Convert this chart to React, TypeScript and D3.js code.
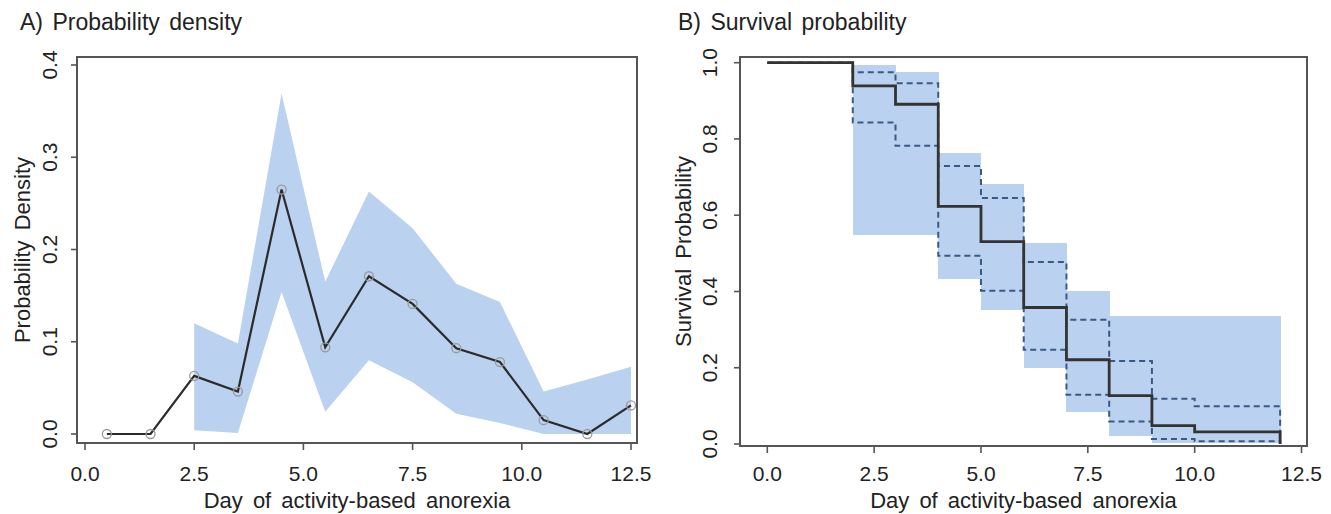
import React from 'react';
import * as d3 from 'd3';

// A) probability density by day
const days = [0.5, 1.5, 2.5, 3.5, 4.5, 5.5, 6.5, 7.5, 8.5, 9.5, 10.5, 11.5, 12.5];
const density = [0, 0, 0.063, 0.046, 0.265, 0.094, 0.171, 0.141, 0.093, 0.078, 0.015, 0.0, 0.031];
const densityUpper = [null, null, 0.12, 0.098, 0.369, 0.165, 0.263, 0.223, 0.163, 0.143, 0.046, 0.059, 0.073];
const densityLower = [null, null, 0.004, 0.001, 0.154, 0.024, 0.08, 0.056, 0.022, 0.012, 0.0, 0.0, 0.0];

// B) Kaplan-Meier survival
const kmTimes = [0, 2, 3, 4, 5, 6, 7, 8, 9, 10, 12];
const kmSurv = [1.0, 0.939, 0.891, 0.623, 0.531, 0.358, 0.221, 0.127, 0.048, 0.032, 0.0];
const kmUpper = [1.0, 0.975, 0.946, 0.729, 0.645, 0.477, 0.326, 0.218, 0.119, 0.099, 0.0];
const kmLower = [1.0, 0.843, 0.782, 0.494, 0.402, 0.247, 0.129, 0.059, 0.013, 0.007, 0.0];
const shadeStart = [2, 3, 4, 5, 6, 7, 8, 9, 10];
const shadeEnd = [3, 4, 5, 6, 7, 8, 9, 10, 12];
const shadeHi = [0.994, 0.975, 0.764, 0.681, 0.527, 0.4, 0.337, 0.337, 0.337];
const shadeLo = [0.549, 0.549, 0.432, 0.351, 0.199, 0.084, 0.021, 0.003, 0.003];

const xTicks = [0, 2.5, 5, 7.5, 10, 12.5];
const yTicksA = [0, 0.1, 0.2, 0.3, 0.4];
const yTicksB = [0, 0.2, 0.4, 0.6, 0.8, 1.0];

const FONT = '"Liberation Sans", Arial, sans-serif';
const SHADE = '#bad1ef';
const AXIS = '#555';

type Frame = { left: number; top: number; right: number; bottom: number };

const Axes = ({ box, x, y, yTicks, yFmt, labelX, titleX, yTitle, title, titleLeft }: any) => (
  <g fontFamily={FONT} fill="#222">
    <rect x={box.left} y={box.top} width={box.right - box.left} height={box.bottom - box.top}
      fill="none" stroke={AXIS} strokeWidth={2} />
    {xTicks.map((t) => (
      <g key={'x' + t}>
        <line x1={x(t)} x2={x(t)} y1={box.bottom} y2={box.bottom + 7} stroke={AXIS} strokeWidth={1.6} />
        <text x={x(t)} y={481} textAnchor="middle" fontSize={21}>{t.toFixed(1)}</text>
      </g>
    ))}
    {yTicks.map((t: number) => (
      <g key={'y' + t}>
        <line x1={box.left - 6} x2={box.left} y1={y(t)} y2={y(t)} stroke={AXIS} strokeWidth={1.6} />
        <text transform={`translate(${labelX},${y(t)}) rotate(-90)`} textAnchor="middle" fontSize={21}>
          {yFmt(t)}
        </text>
      </g>
    ))}
    <text x={(box.left + box.right) / 2} y={508} textAnchor="middle" fontSize={22} wordSpacing={4}>
      Day of activity-based anorexia
    </text>
    <text transform={`translate(${titleX},${(box.top + box.bottom) / 2}) rotate(-90)`} textAnchor="middle"
      fontSize={22} wordSpacing={4}>
      {yTitle}
    </text>
    <text x={titleLeft} y={30} fontSize={23} wordSpacing={3}>{title}</text>
  </g>
);

export default function App() {
  // panel A
  const boxA: Frame = { left: 77, top: 57, right: 637, bottom: 443 };
  const xA = d3.scaleLinear().domain([0, 12.5]).range([85, 631]);
  const yA = d3.scaleLinear().domain([0, 0.4]).range([434, 65]);
  const ptsA = days.map((d, i) => ({ d, v: density[i], hi: densityUpper[i], lo: densityLower[i] }));
  const band = d3.area<any>()
    .defined((p) => p.hi != null)
    .x((p) => xA(p.d))
    .y0((p) => yA(p.lo))
    .y1((p) => yA(p.hi));
  const lineA = d3.line<any>().x((p) => xA(p.d)).y((p) => yA(p.v));

  // panel B
  const boxB: Frame = { left: 740, top: 57, right: 1307, bottom: 446 };
  const xB = d3.scaleLinear().domain([0, 12.5]).range([767.3, 1301.5]);
  const yB = d3.scaleLinear().domain([0, 1]).range([444, 62.7]);
  const step = (vals: number[]) =>
    d3.line<number>().x((_, i) => xB(kmTimes[i])).y((v) => yB(v)).curve(d3.curveStepAfter)(vals) as string;

  return (
    <svg width={1331} height={514} style={{ position: 'absolute', left: 0, top: 0, background: '#fff' }}>
      {/* A */}
      <path d={band(ptsA) as string} fill={SHADE} />
      <path d={lineA(ptsA) as string} fill="none" stroke="#2b2b2b" strokeWidth={2.2} />
      {ptsA.map((p) => (
        <circle key={p.d} cx={xA(p.d)} cy={yA(p.v)} r={4.5} fill="none" stroke="#999" strokeWidth={1.3} />
      ))}
      <Axes box={boxA} x={xA} y={yA} yTicks={yTicksA} yFmt={(t: number) => t.toFixed(1)} labelX={57}
        titleX={30} yTitle="Probability Density" title="A)  Probability density" titleLeft={20} />

      {/* B */}
      <g shapeRendering="crispEdges">
        {shadeStart.map((s, i) => (
          <rect key={s} x={xB(s)} width={xB(shadeEnd[i]) - xB(s) + 0.5} y={yB(shadeHi[i])}
            height={yB(shadeLo[i]) - yB(shadeHi[i])} fill={SHADE} />
        ))}
      </g>
      <path d={step(kmUpper)} fill="none" stroke="#3a5a86" strokeWidth={2} strokeDasharray="6,4" />
      <path d={step(kmLower)} fill="none" stroke="#3a5a86" strokeWidth={2} strokeDasharray="6,4" />
      <path d={step(kmSurv)} fill="none" stroke="#333" strokeWidth={2.8} />
      <Axes box={boxB} x={xB} y={yB} yTicks={yTicksB} yFmt={(t: number) => t.toFixed(1)} labelX={717}
        titleX={691} yTitle="Survival Probability" title="B) Survival probability" titleLeft={678} />
    </svg>
  );
}
